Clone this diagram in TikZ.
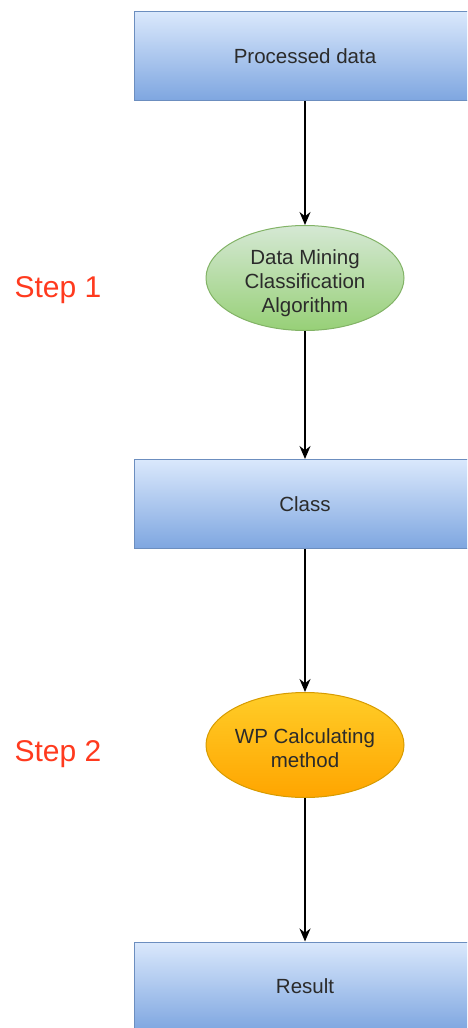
\documentclass[tikz,border=0pt]{standalone}
\usepackage{fontspec}
\setmainfont{Liberation Sans}
\usetikzlibrary{shapes.geometric,arrows.meta}
\definecolor{boxtop}{HTML}{DAE8FC}
\definecolor{boxbot}{HTML}{7EA6E0}
\definecolor{boxline}{HTML}{6C8EBF}
\definecolor{greentop}{HTML}{D5E8D4}
\definecolor{greenbot}{HTML}{97D077}
\definecolor{greenline}{HTML}{82B366}
\definecolor{orangetop}{HTML}{FFCD28}
\definecolor{orangebot}{HTML}{FFA500}
\definecolor{orangeline}{HTML}{D79B00}
\definecolor{steptext}{HTML}{FF3A1E}
\definecolor{labeltext}{HTML}{2B2B2B}
\tikzset{
  databox/.style={rectangle, draw=boxline, line width=1pt,
    top color=boxtop, bottom color=boxbot,
    minimum width=342pt, minimum height=89pt, inner sep=0pt,
    text=labeltext, font=\fontsize{20.5}{24}\selectfont},
  process/.style={ellipse, line width=1pt,
    minimum width=198pt, minimum height=105pt, inner sep=0pt},
  caption/.style={inner sep=0pt, align=center, text=labeltext,
    font=\fontsize{20.5}{24}\selectfont},
  greenproc/.style={process, draw=greenline, top color=greentop, bottom color=greenbot},
  orangeproc/.style={process, draw=orangeline, top color=orangetop, bottom color=orangebot},
  steplabel/.style={text=steptext, font=\fontsize{30}{34}\selectfont, inner sep=0pt},
  flow/.style={-{Stealth[length=13pt,width=11pt]}, line width=1.3pt, black}
}
\begin{document}
\begin{tikzpicture}[x=1pt,y=-1pt]
  \useasboundingbox (0,0) rectangle (467,1028);
  \clip (0,0) rectangle (467,1028);

  % boxes and process steps
  \node[databox] (data) at (305,56) {Processed data};
  \node[greenproc] (mining) at (305,278) {};
  \node[databox] (class) at (305,504) {Class};
  \node[orangeproc] (wp) at (305,745) {};
  \node[databox] (result) at (305,986.5) {Result};

  % ellipse captions, set a little below the geometric centre
  \node[caption] (miningtext) at (305,283) {Data Mining\\Classification\\Algorithm};
  \node[caption] (wptext) at (305,748) {WP Calculating\\method};

  % step labels
  \node[steplabel] (step1) at (58,290) {Step 1};
  \node[steplabel] (step2) at (58,754) {Step 2};

  % connectors
  \draw[flow] (data) -- (mining);
  \draw[flow] (mining) -- (class);
  \draw[flow] (class) -- (wp);
  \draw[flow] (wp) -- (result);
\end{tikzpicture}
\end{document}
